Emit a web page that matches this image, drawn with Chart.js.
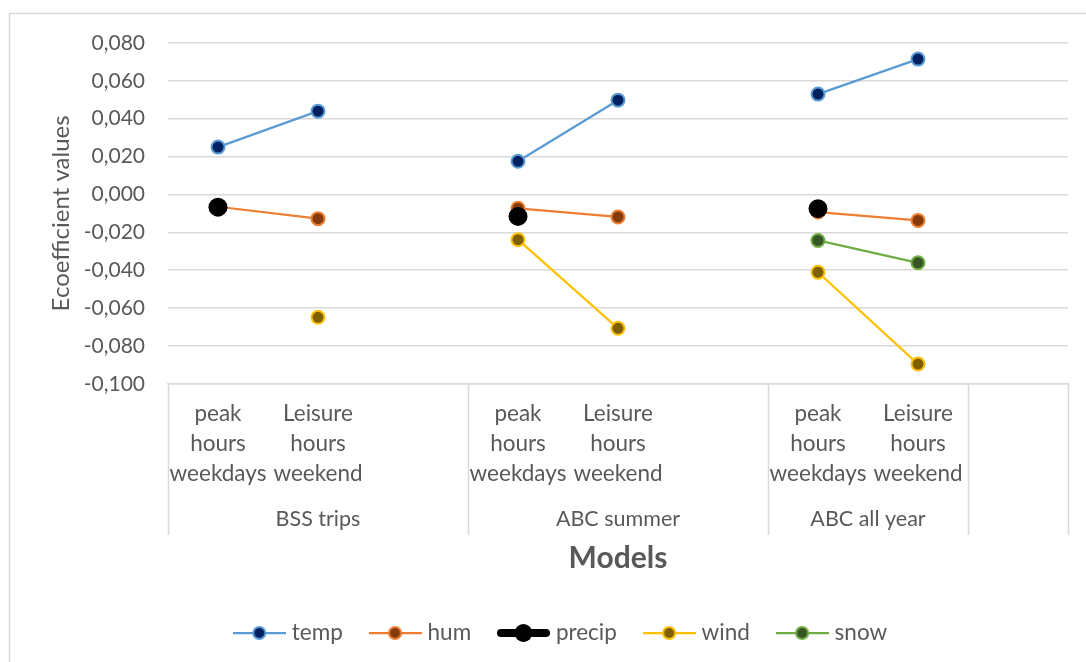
<!DOCTYPE html>
<html>
<head>
<meta charset="utf-8">
<title>Ecoefficient values by model</title>
<script src="https://cdn.jsdelivr.net/npm/chart.js@4.4.1/dist/chart.umd.min.js"></script>
<style>
  html, body { margin: 0; padding: 0; background: #fff; }
  #wrap { width: 1086px; height: 662px; }
</style>
</head>
<body>
<div id="wrap"><canvas id="chart" width="1086" height="662"></canvas></div>
<script>
// categories (tick labels, one per slot on the x axis)
const categories = [
    ['peak', 'hours', 'weekdays'], ['Leisure', 'hours', 'weekend'], '',
    ['peak', 'hours', 'weekdays'], ['Leisure', 'hours', 'weekend'], '',
    ['peak', 'hours', 'weekdays'], ['Leisure', 'hours', 'weekend'], ''
];
// second level of the x axis
const groupNames = ['BSS trips', 'ABC summer', 'ABC all year', ''];
const groupSizes = [3, 3, 2, 1];

// series values
const temp   = [0.025, 0.044, null, 0.0175, 0.0498, null, 0.053, 0.0715, null];
const hum    = [-0.0065, -0.0128, null, -0.0073, -0.0119, null, -0.0093, -0.0137, null];
const precip = [-0.0067, null, null, -0.0116, null, null, -0.0075, null, null];
const wind   = [null, -0.0649, null, -0.0239, -0.0707, null, -0.0411, -0.0896, null];
const snow   = [null, null, null, null, null, null, -0.0243, -0.0361, null];

const TEXT = '#595959';
const GRID = '#d9d9d9';
const FONT = 'Lato, "Open Sans", sans-serif';

function series(label, data, line, fill, extra) {
    return Object.assign({
        label: label,
        data: data,
        borderColor: line,
        backgroundColor: fill,
        borderWidth: 2.25,
        pointRadius: 6.5,
        pointBorderWidth: 2,
        pointBorderColor: line,
        pointBackgroundColor: fill,
        spanGaps: false,
        order: 0
    }, extra || {});
}

const datasets = [
    series('temp', temp, '#5b9bd5', '#002060'),
    series('hum', hum, '#ed7d31', '#843c0c'),
    series('precip', precip, '#000000', '#000000', { borderWidth: 8, borderCapStyle: 'round', pointRadius: 9.5, pointBorderWidth: 0, order: -1 }),
    series('wind', wind, '#ffc000', '#7f6000'),
    series('snow', snow, '#70ad47', '#375623')
];

// little line + marker pictures for the legend
function legendIcon(ds) {
    const c = document.createElement('canvas');
    c.width = 53; c.height = 22;
    const g = c.getContext('2d');
    const thick = ds.label === 'precip';
    g.strokeStyle = ds.borderColor;
    g.lineWidth = ds.borderWidth;
    g.lineCap = thick ? 'round' : 'butt';
    g.beginPath();
    g.moveTo(thick ? 4 : 0, 11); g.lineTo(thick ? 49 : 53, 11);
    g.stroke();
    g.beginPath();
    g.arc(26.5, 11, thick ? 9 : 6, 0, Math.PI * 2);
    g.fillStyle = ds.pointBackgroundColor;
    g.fill();
    if (ds.pointBorderWidth) {
        g.lineWidth = ds.pointBorderWidth;
        g.strokeStyle = ds.pointBorderColor;
        g.stroke();
    }
    return c;
}

function fmt(v) {
    let s = (Math.round(v * 1000) / 1000).toFixed(3);
    if (s === '-0.000') s = '0.000';
    return s.replace('.', ',');
}

const groupPlugin = {
    id: 'groups',
    afterLayout(chart) {
        // nudge the legend row to where it sits in the original
        chart.legend.left += 8.6;
        chart.legend.right += 8.6;
    },
    beforeDraw(chart) {
        const g = chart.ctx;
        g.save();
        g.strokeStyle = GRID;
        g.lineWidth = 1.5;
        g.beginPath();
        g.moveTo(9, 13.5); g.lineTo(chart.width, 13.5);
        g.moveTo(9.5, 13); g.lineTo(9.5, chart.height);
        g.stroke();
        g.restore();
    },
    afterDraw(chart) {
        const xs = chart.scales.x;
        const g = chart.ctx;
        g.save();
        g.strokeStyle = GRID;
        g.lineWidth = 1.5;
        let start = 0;
        const bounds = [0];
        groupSizes.forEach(n => { start += n; bounds.push(start); });
        g.beginPath();
        bounds.forEach(b => {
            const x = Math.round(xs.getPixelForValue(b - 0.5)) + 0.5;
            g.moveTo(x, xs.top); g.lineTo(x, 535);
        });
        g.stroke();
        g.fillStyle = TEXT;
        g.font = '21.5px ' + FONT;
        g.textAlign = 'center';
        g.textBaseline = 'middle';
        start = 0;
        groupNames.forEach((name, i) => {
            const mid = start + (groupSizes[i] - 1) / 2;
            g.fillText(name, xs.getPixelForValue(mid), 519);
            start += groupSizes[i];
        });
        g.restore();
    }
};

new Chart(document.getElementById('chart'), {
    type: 'line',
    data: { labels: categories, datasets: datasets },
    plugins: [groupPlugin],
    options: {
        responsive: false,
        animation: false,
        layout: { padding: { left: 40, right: 18, top: 43, bottom: 7.75 } },
        plugins: {
            tooltip: { enabled: false },
            legend: {
                position: 'bottom',
                labels: {
                    usePointStyle: true,
                    pointStyleWidth: 42.5,
                    padding: 31,
                    color: TEXT,
                    font: { family: FONT, size: 22.5 },
                    generateLabels: (chart) => chart.data.datasets.map((ds, i) => ({
                        text: ds.label,
                        fontColor: TEXT,
                        pointStyle: legendIcon(ds),
                        lineWidth: 0,
                        strokeStyle: 'rgba(0,0,0,0)',
                        fillStyle: 'rgba(0,0,0,0)',
                        hidden: false,
                        datasetIndex: i
                    }))
                }
            }
        },
        scales: {
            x: {
                offset: true,
                grid: { display: false, drawTicks: false },
                border: { display: true, color: GRID, width: 1.5 },
                ticks: {
                    autoSkip: false,
                    maxRotation: 0,
                    minRotation: 0,
                    padding: 15,
                    color: TEXT,
                    font: { family: FONT, size: 22.5, lineHeight: '30px' }
                },
                title: {
                    display: true,
                    text: 'Models',
                    color: TEXT,
                    font: { family: FONT, size: 30, weight: 'bold' },
                    padding: { top: 0, bottom: 14.75 }
                },
                afterFit: (s) => { s.height = 207; }
            },
            y: {
                min: -0.1,
                max: 0.08,
                grid: { color: GRID, lineWidth: 1.5, drawTicks: false },
                border: { display: false },
                ticks: {
                    stepSize: 0.02,
                    padding: 23,
                    color: TEXT,
                    font: { family: FONT, size: 21 },
                    callback: (v) => fmt(v)
                },
                title: {
                    display: true,
                    text: 'Ecoefficient values',
                    color: TEXT,
                    font: { family: FONT, size: 24 },
                    padding: { top: 6.6, bottom: 0 }
                },
                afterFit: (s) => { s.width = 128; }
            }
        }
    }
});
</script>
</body>
</html>
